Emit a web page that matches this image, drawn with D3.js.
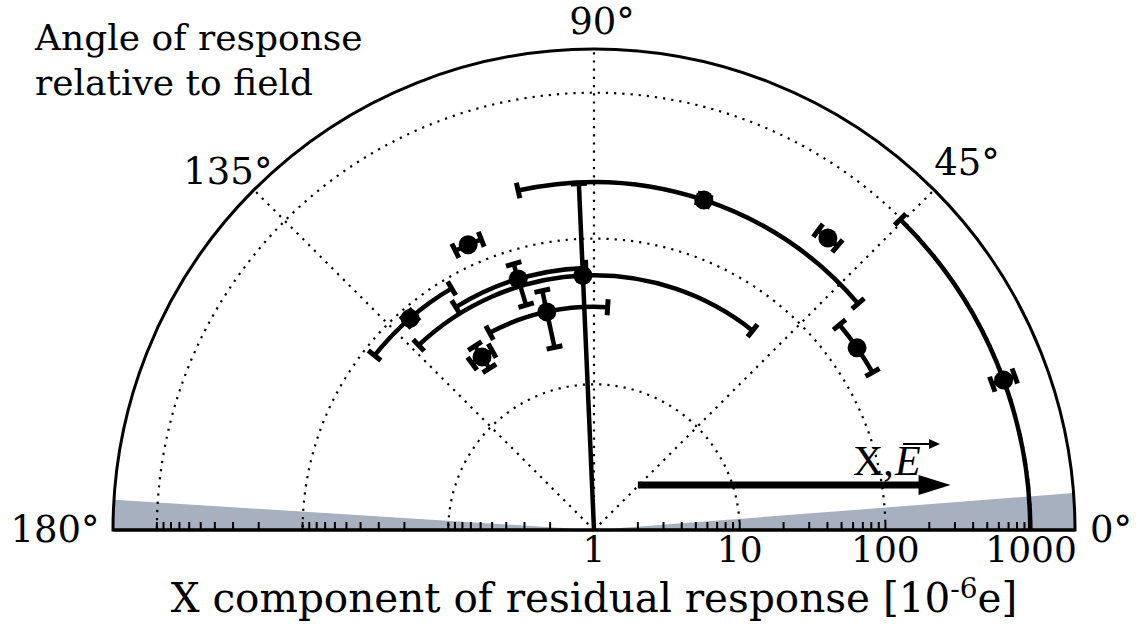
<!DOCTYPE html>
<meta charset="utf-8">
<script src="https://d3js.org/d3.v7.min.js"></script>
<style>
body { margin: 0; background: #fff; }
text { font-family: "DejaVu Serif", serif; fill: #000; }
</style>
<body>
<script>

// data: angle (deg), value (radial, log), errors
var angles   = [71.6, 51.3, 34.7, 20.1, 113.8, 106.8, 92.5, 102.2, 131.0, 122.9];
var values   = [244, 369, 157, 985, 138, 63, 56, 34, 84, 26];
var angleErr = [31, 1.9, 5.2, 25.3, 2.6, 15, 41, 15.7, 10.5, 3.3];
var valueLo  = [226, 369, 157, 815, 138, 41, 0.5, 19.2, 77, 21];
var valueHi  = [263, 369, 157, 1190, 138, 81, 240, 48, 92, 32];

var tickLabels = ["1", "10", "100", "1000"];
var angleLabels = [0, 45, 90, 135, 180];
var shadeRight = [0, 4.4];
var shadeLeft = [176.4, 180];

var width = 1140, height = 631;
var cx = 594, cy = 530, R = 481;

var r = d3.scaleLog().domain([1, 2000]).range([0, R]).clamp(true);
var rad = function(a) { return a * Math.PI / 180; };
function pol(a, rr) {
    return [cx + rr * Math.cos(rad(a)), cy - rr * Math.sin(rad(a))];
}

var svg = d3.select("body").append("svg")
    .attr("width", width)
    .attr("height", height);

svg.append("defs").append("clipPath").attr("id", "half")
  .append("rect").attr("x", 0).attr("y", 0).attr("width", width).attr("height", cy);

// shaded wedges
[shadeRight, shadeLeft].forEach(function(s) {
    var p = d3.path();
    p.moveTo(cx, cy);
    p.arc(cx, cy, R, -rad(s[0]), -rad(s[1]), true);
    p.closePath();
    svg.append("path").attr("d", p.toString()).attr("fill", "#a7b0bf");
});

// grid circles
[10, 100, 1000].forEach(function(v) {
    var p = d3.path();
    p.moveTo(cx + r(v), cy);
    p.arc(cx, cy, r(v), 0, -Math.PI, true);
    svg.append("path").attr("d", p.toString())
        .attr("fill", "none").attr("stroke", "#000")
        .attr("stroke-width", 2.2).attr("stroke-dasharray", "2.2,6");
});
// grid spokes
[45, 90, 135].forEach(function(a) {
    var e = pol(a, R);
    svg.append("line").attr("x1", cx).attr("y1", cy).attr("x2", e[0]).attr("y2", e[1])
        .attr("stroke", "#000").attr("stroke-width", 2.2).attr("stroke-dasharray", "2.2,6");
});

// minor ticks on both sides
var tickVals = [];
[1, 10, 100].forEach(function(d) {
    for (var k = 2; k <= 10; k++) tickVals.push(k * d);
});
[1, -1].forEach(function(side) {
    svg.append("g").selectAll("line").data(tickVals).enter().append("line")
        .attr("x1", function(v) { return cx + side * r(v); })
        .attr("x2", function(v) { return cx + side * r(v); })
        .attr("y1", cy).attr("y2", cy - 8)
        .attr("stroke", "#000").attr("stroke-width", 2);
});

// frame
var fp = d3.path();
fp.moveTo(cx + R, cy);
fp.arc(cx, cy, R, 0, -Math.PI, true);
fp.closePath();
svg.append("path").attr("d", fp.toString())
    .attr("fill", "none").attr("stroke", "#000").attr("stroke-width", 3);

// data
var g = svg.append("g").attr("clip-path", "url(#half)");
var cap = 8;

angles.forEach(function(a, i) {
    var rv = r(values[i]);
    // angular error arc
    if (angleErr[i] > 0) {
        var a0 = a - angleErr[i], a1 = a + angleErr[i];
        var p = d3.path();
        var s = pol(a0, rv);
        p.moveTo(s[0], s[1]);
        p.arc(cx, cy, rv, -rad(a0), -rad(a1), true);
        g.append("path").attr("d", p.toString())
            .attr("fill", "none").attr("stroke", "#000").attr("stroke-width", 4.5);
        [a0, a1].forEach(function(b) {
            var c1 = pol(b, rv - cap), c2 = pol(b, rv + cap);
            g.append("line").attr("x1", c1[0]).attr("y1", c1[1]).attr("x2", c2[0]).attr("y2", c2[1])
                .attr("stroke", "#000").attr("stroke-width", 5);
        });
    }
    // radial error bar
    if (valueHi[i] > valueLo[i]) {
        var p0 = pol(a, r(valueLo[i])), p1 = pol(a, r(valueHi[i]));
        g.append("line").attr("x1", p0[0]).attr("y1", p0[1]).attr("x2", p1[0]).attr("y2", p1[1])
            .attr("stroke", "#000").attr("stroke-width", 4.5);
        [valueLo[i], valueHi[i]].forEach(function(v) {
            var rr = r(v);
            if (rr <= 0) return;
            var dAng = cap / rr * 180 / Math.PI;
            var c1 = pol(a - dAng, rr), c2 = pol(a + dAng, rr);
            g.append("line").attr("x1", c1[0]).attr("y1", c1[1]).attr("x2", c2[0]).attr("y2", c2[1])
                .attr("stroke", "#000").attr("stroke-width", 5);
        });
    }
    var m = pol(a, rv);
    g.append("circle").attr("cx", m[0]).attr("cy", m[1]).attr("r", 9.5).attr("fill", "#000");
});

// baseline
svg.append("line").attr("x1", cx - R).attr("x2", cx + R).attr("y1", cy).attr("y2", cy)
    .attr("stroke", "#000").attr("stroke-width", 3);

// field arrow
var ay = cy - 45;
var ax0 = cx + r(2), ax1 = cx + r(280);
svg.append("line").attr("x1", ax0).attr("x2", ax1 - 28).attr("y1", ay).attr("y2", ay)
    .attr("stroke", "#000").attr("stroke-width", 7);
svg.append("path")
    .attr("d", "M" + ax1 + "," + ay + "L" + (ax1 - 32) + "," + (ay - 10) + "L" + (ax1 - 32) + "," + (ay + 10) + "Z")
    .attr("fill", "#000");
var lf = "'Liberation Serif', serif";
svg.append("text").attr("x", 853).attr("y", ay - 10)
    .style("font-family", lf).style("font-size", "42px").text("X,");
svg.append("text").attr("x", 895).attr("y", ay - 10)
    .style("font-family", lf).style("font-size", "42px").style("font-style", "italic").text("E");
svg.append("line").attr("x1", 903).attr("x2", 932).attr("y1", ay - 41).attr("y2", ay - 41)
    .attr("stroke", "#000").attr("stroke-width", 2);
svg.append("path").attr("d", "M940," + (ay - 41) + "L929," + (ay - 46) + "L929," + (ay - 36) + "Z")
    .attr("fill", "#000");

// radial tick labels
svg.append("g").selectAll("text").data(tickLabels).enter().append("text")
    .attr("x", function(d) { return cx + r(+d); })
    .attr("y", cy + 32)
    .attr("text-anchor", "middle")
    .style("font-size", "36px")
    .text(function(d) { return d; });

// angle labels
var labPos = {0: [R + 36, 0, 12], 45: [R + 38, 6, 12], 90: [R + 27, 8, 12],
              135: [R + 34, -2, 18], 180: [R + 58, 0, 12]};
svg.append("g").selectAll("text").data(angleLabels).enter().append("text")
    .attr("x", function(d) { return pol(d, labPos[d][0])[0] + labPos[d][1]; })
    .attr("y", function(d) { return pol(d, labPos[d][0])[1] + labPos[d][2]; })
    .attr("text-anchor", "middle")
    .style("font-size", "37px")
    .text(function(d) { return d + "°"; });

// titles
svg.append("text").attr("x", 35).attr("y", 50).style("font-size", "36px").text("Angle of response");
svg.append("text").attr("x", 35).attr("y", 95).style("font-size", "36px").text("relative to field");

var xl = svg.append("text").attr("x", cx).attr("y", 612).attr("text-anchor", "middle")
    .style("font-size", "40.5px");
xl.append("tspan").text("X component of residual response [10");
xl.append("tspan").attr("dy", -14).style("font-size", "28px").text("-6");
xl.append("tspan").attr("dy", 14).text("e]");

</script>
</body>
</html>
